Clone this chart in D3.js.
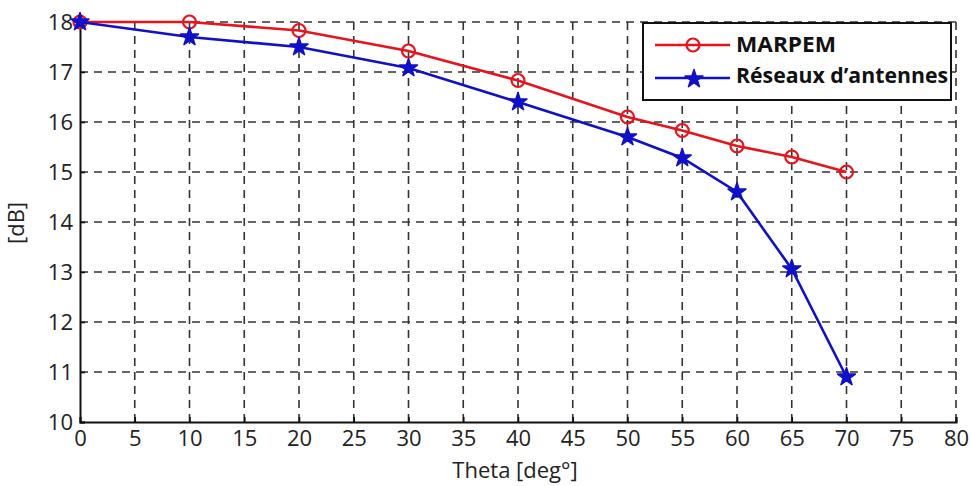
<!DOCTYPE html>
<html><head><meta charset="utf-8">
<script src="https://cdn.jsdelivr.net/npm/d3@7"></script>
<style>body{margin:0;background:#fff}</style>
</head><body>
<svg id="c" width="971" height="486"></svg>
<script>
const theta = [0, 10, 20, 30, 40, 50, 55, 60, 65, 70];
const marpem = [18, 18, 17.83, 17.42, 16.83, 16.1, 15.83, 15.52, 15.3, 15.0];
const reseaux = [18, 17.7, 17.5, 17.08, 16.4, 15.7, 15.28, 14.6, 13.06, 10.9];
const xTicks = [0,5,10,15,20,25,30,35,40,45,50,55,60,65,70,75,80];
const yTicks = [10,11,12,13,14,15,16,17,18];
const seriesNames = ["MARPEM", "Réseaux d’antennes"];

const svg = d3.select("#c");
const L = 80, R = 956, T = 22, B = 422;
const x = d3.scaleLinear().domain([0, 80]).range([L, R]);
const y = d3.scaleLinear().domain([10, 18]).range([B, T]);
const font = "'Open Sans', sans-serif";

// grid
const g = svg.append("g");
g.selectAll(".vg").data(xTicks.slice(1)).enter().append("line")
  .attr("x1", d => x(d)).attr("x2", d => x(d)).attr("y1", B).attr("y2", T)
  .attr("stroke", "#333").attr("stroke-width", 1.6).attr("stroke-dasharray", "8,6");
g.selectAll(".hg").data(yTicks.slice(1)).enter().append("line")
  .attr("y1", d => y(d)).attr("y2", d => y(d)).attr("x1", L).attr("x2", R)
  .attr("stroke", "#333").attr("stroke-width", 1.6).attr("stroke-dasharray", "8,6");

// axes
const xAxis = svg.append("g").attr("transform", `translate(0,${B})`)
  .call(d3.axisBottom(x).tickValues(xTicks).tickSize(-5).tickPadding(8));
const yAxis = svg.append("g").attr("transform", `translate(${L},0)`)
  .call(d3.axisLeft(y).tickValues(yTicks).tickSize(-5).tickPadding(7));
[xAxis, yAxis].forEach(a => {
  a.select(".domain").attr("stroke", "#111").attr("stroke-width", 2);
  a.selectAll(".tick line").attr("stroke", "#111").attr("stroke-width", 1.6);
  a.selectAll("text").attr("font-family", font).attr("font-size", 22).attr("fill", "#222");
});

svg.append("text").attr("x", 515).attr("y", 478).attr("text-anchor", "middle")
  .attr("font-family", font).attr("font-size", 22).attr("fill", "#222").text("Theta [deg°]");
svg.append("text").attr("transform", "translate(24,223) rotate(-90)").attr("text-anchor", "middle")
  .attr("font-family", font).attr("font-size", 22).attr("fill", "#222").text("[dB]");

const red = "#e8131b", blue = "#1010c8";
const line = d3.line().x(d => x(d[0])).y(d => y(d[1]));
const redData = theta.map((t, i) => [t, marpem[i]]);
const blueData = theta.map((t, i) => [t, reseaux[i]]);

svg.append("path").datum(redData).attr("d", line).attr("fill", "none").attr("stroke", red).attr("stroke-width", 2.6);
svg.selectAll(".rm").data(redData).enter().append("circle")
  .attr("cx", d => x(d[0])).attr("cy", d => y(d[1])).attr("r", 6.5)
  .attr("fill", "none").attr("stroke", red).attr("stroke-width", 2.2);

svg.append("path").datum(blueData).attr("d", line).attr("fill", "none").attr("stroke", blue).attr("stroke-width", 2.6);
const star = d3.symbol().type(d3.symbolStar).size(100);
svg.selectAll(".bm").data(blueData).enter().append("path")
  .attr("d", star).attr("transform", d => `translate(${x(d[0])},${y(d[1])})`)
  .attr("fill", blue).attr("stroke", blue).attr("stroke-width", 1.5).attr("stroke-linejoin", "round");

// legend
const lg = svg.append("g");
lg.append("rect").attr("x", 643).attr("y", 23).attr("width", 308).attr("height", 77)
  .attr("fill", "#fff").attr("stroke", "#111").attr("stroke-width", 2);
lg.append("line").attr("x1", 655).attr("x2", 730).attr("y1", 45).attr("y2", 45).attr("stroke", red).attr("stroke-width", 2.6);
lg.append("circle").attr("cx", 693).attr("cy", 45).attr("r", 6.5).attr("fill", "none").attr("stroke", red).attr("stroke-width", 2.2);
lg.append("line").attr("x1", 655).attr("x2", 730).attr("y1", 78).attr("y2", 78).attr("stroke", blue).attr("stroke-width", 2.6);
lg.append("path").attr("d", star).attr("transform", "translate(694,79)")
  .attr("fill", blue).attr("stroke", blue).attr("stroke-width", 1.5).attr("stroke-linejoin", "round");
lg.selectAll(".lt").data(seriesNames).enter().append("text")
  .attr("x", 736).attr("y", (d, i) => 52 + i * 31)
  .attr("font-family", font).attr("font-weight", "bold").attr("font-size", 21).attr("fill", "#111")
  .attr("textLength", (d, i) => i === 0 ? 100 : 212).attr("lengthAdjust", "spacingAndGlyphs")
  .text(d => d);
</script>
</body></html>
